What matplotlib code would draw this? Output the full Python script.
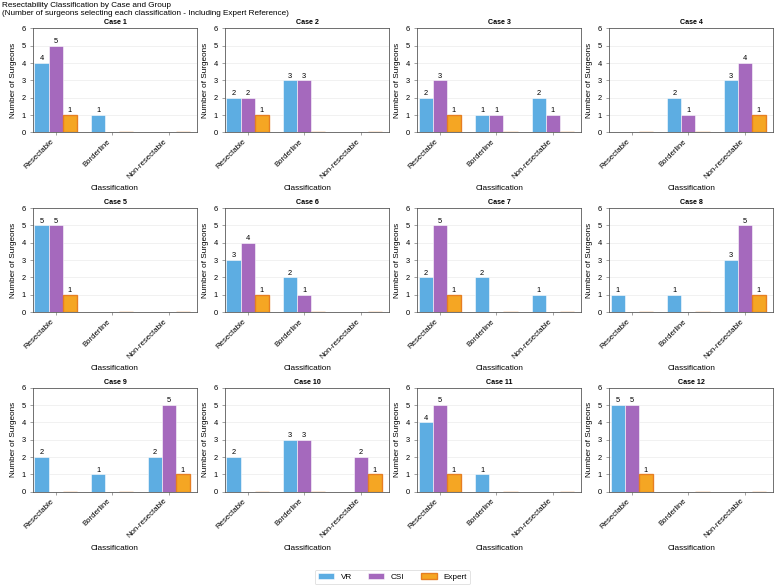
import numpy as np
import matplotlib
matplotlib.use('Agg')
import matplotlib.pyplot as plt

plt.rcParams['font.family'] = ['Liberation Sans', 'DejaVu Sans']

# Data
classes = ['Resectable', 'Borderline', 'Non-resectable']
cases = ['Case 1', 'Case 2', 'Case 3', 'Case 4', 'Case 5', 'Case 6',
         'Case 7', 'Case 8', 'Case 9', 'Case 10', 'Case 11', 'Case 12']
vr = [[4, 1, 0], [2, 3, 0], [2, 1, 2], [0, 2, 3],
      [5, 0, 0], [3, 2, 0], [2, 2, 1], [1, 1, 3],
      [2, 1, 2], [2, 3, 0], [4, 1, 0], [5, 0, 0]]
csi = [[5, 0, 0], [2, 3, 0], [3, 1, 1], [0, 1, 4],
       [5, 0, 0], [4, 1, 0], [5, 0, 0], [0, 0, 5],
       [0, 0, 5], [0, 3, 2], [5, 0, 0], [5, 0, 0]]
expert = [[1, 0, 0], [1, 0, 0], [1, 0, 0], [0, 0, 1],
          [1, 0, 0], [1, 0, 0], [1, 0, 0], [0, 0, 1],
          [0, 0, 1], [0, 0, 1], [1, 0, 0], [1, 0, 0]]

vr_color = '#5DADE2'
csi_color = '#A569BD'
exp_color = '#F5A623'
exp_edge = '#E67E22'

fig, axes = plt.subplots(3, 4, figsize=(15.94, 12), dpi=48.75)
fig.subplots_adjust(left=0.0425, right=0.995, top=0.9513, bottom=0.1595,
                    wspace=0.171, hspace=0.73)

x = np.arange(len(classes))
w = 0.25


def label_bars(ax, bars):
    for b in bars:
        h = b.get_height()
        if h > 0:
            ax.text(b.get_x() + b.get_width() / 2, h + 0.05, f'{int(h)}',
                    ha='center', va='bottom', fontsize=11)


for i, ax in enumerate(axes.flat):
    b1 = ax.bar(x - w, vr[i], w, color=vr_color, edgecolor='white',
                linewidth=0.8, label='VR')
    b2 = ax.bar(x, csi[i], w, color=csi_color, edgecolor='white',
                linewidth=0.8, label='CSI')
    b3 = ax.bar(x + w, expert[i], w, color=exp_color, edgecolor=exp_edge,
                linewidth=2, label='Expert')
    for bars in (b1, b2, b3):
        label_bars(ax, bars)

    ax.set_title(cases[i], fontsize=10.5, fontweight='bold')
    ax.set_ylim(0, 6)
    ax.set_xlim(-0.4, 2.5)
    ax.set_yticks(range(7))
    ax.set_xticks(x)
    ax.set_xticklabels(classes, rotation=45, ha='right', fontsize=11.5)
    ax.tick_params(axis='both', length=5, color='#555555')
    ax.tick_params(axis='y', labelsize=11, pad=6)
    ax.set_xlabel('Classification', fontsize=12, labelpad=7)
    ax.set_ylabel('Number of Surgeons', fontsize=12, labelpad=7)
    ax.grid(axis='y', alpha=0.3)
    ax.set_axisbelow(True)
    for s in ax.spines.values():
        s.set_color('#555555')
        s.set_linewidth(1.2)

fig.text(0.002, 0.997,
         'Resectability Classification by Case and Group\n'
         '(Number of surgeons selecting each classification - Including Expert Reference)',
         ha='left', va='top', fontsize=12)

handles, labels = axes[0, 0].get_legend_handles_labels()
fig.legend(handles, labels, loc='lower center', ncol=3, fontsize=12,
           bbox_to_anchor=(0.505, 0.0), borderaxespad=0.1)

fig.savefig('out.png', dpi=48.75)
